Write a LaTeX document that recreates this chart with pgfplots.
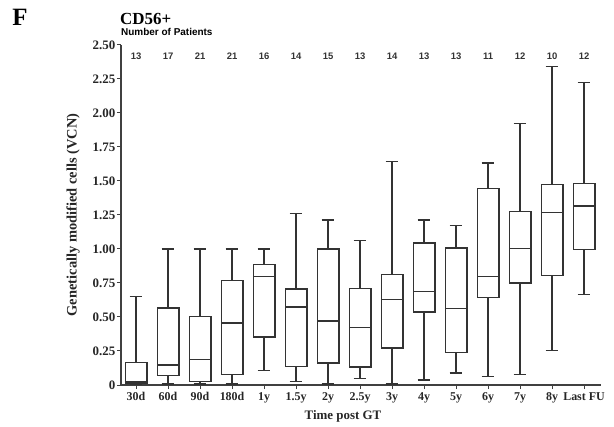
\documentclass[border=0pt]{standalone}
\usepackage{fontspec}
\setmainfont{Liberation Serif}
\newfontfamily\arial{Liberation Sans}
\usepackage{pgfplots}
\usepackage{pgfplotstable}
\pgfplotsset{compat=1.18}
\usepgfplotslibrary{statistics}

% number of patients per time point
\pgfplotstableread{
pos y cnt
0 2.395 13
1 2.395 17
2 2.395 21
3 2.395 21
4 2.395 16
5 2.395 14
6 2.395 15
7 2.395 13
8 2.395 14
9 2.395 13
10 2.395 13
11 2.395 11
12 2.395 12
13 2.395 10
14 2.395 12
}\counts

% pos, lower whisker, q1, median, q3, upper whisker
\newcommand{\bx}[6]{%
  \addplot[black!80, line width=1.5bp, solid,
    boxplot/every box/.style={line width=1.5bp},
    boxplot/every median/.style={line width=1.5bp},
    boxplot/every whisker/.style={line width=1.5bp},
    boxplot prepared={draw direction=y, draw position=#1, lower whisker=#2,
      lower quartile=#3, median=#4, upper quartile=#5, upper whisker=#6,
      box extend=0.67, whisker extend=0.4}] coordinates {};}

\begin{document}
\begin{tikzpicture}
\useasboundingbox (-121bp,-42bp) rectangle (493bp,385bp);
\begin{axis}[
    at={(0,0)}, anchor=south west,
    scale only axis, width=480bp, height=340bp,
    xmin=-0.47, xmax=14.53, ymin=0, ymax=2.5,
    axis lines*=left,
    axis line style={line width=1.2bp, black!75, -},
    xtick={0,...,14},
    xticklabels={30d,60d,90d,180d,1y,1.5y,2y,2.5y,3y,4y,5y,6y,7y,8y,Last FU},
    ytick={0,0.25,...,2.5},
    yticklabels={0,0.25,0.50,0.75,1.00,1.25,1.50,1.75,2.00,2.25,2.50},
    tick align=outside, major tick length=4bp,
    tick style={line width=1bp, black!75},
    x tick label style={font=\fontsize{12}{12}\selectfont\bfseries, text=black!85},
    y tick label style={font=\fontsize{13}{13}\selectfont\bfseries, text=black!85, inner sep=1.5bp},
    clip=false,
]
\bx{0}{0.007}{0.015}{0.027}{0.167}{0.652}
\bx{1}{0.007}{0.069}{0.147}{0.566}{1.00}
\bx{2}{0.007}{0.025}{0.186}{0.505}{1.00}
\bx{3}{0.007}{0.076}{0.456}{0.767}{1.00}
\bx{4}{0.105}{0.353}{0.797}{0.887}{1.00}
\bx{5}{0.025}{0.135}{0.574}{0.706}{1.26}
\bx{6}{0.007}{0.162}{0.470}{1.00}{1.215}
\bx{7}{0.049}{0.132}{0.422}{0.711}{1.064}
\bx{8}{0.007}{0.272}{0.630}{0.811}{1.644}
\bx{9}{0.037}{0.537}{0.686}{1.044}{1.213}
\bx{10}{0.088}{0.240}{0.561}{1.007}{1.174}
\bx{11}{0.064}{0.645}{0.797}{1.446}{1.632}
\bx{12}{0.076}{0.750}{1.002}{1.274}{1.921}
\bx{13}{0.252}{0.804}{1.269}{1.475}{2.343}
\bx{14}{0.664}{0.995}{1.318}{1.480}{2.223}
\addplot[only marks, mark=none, nodes near coords, point meta=explicit symbolic,
    every node near coord/.style={anchor=base, inner sep=0pt,
      font=\arial\fontsize{9.5}{9.5}\selectfont\bfseries, text=black!80}]
    table[x=pos, y=y, meta=cnt] {\counts};
\end{axis}
\node[rotate=90, font=\fontsize{14.5}{14.5}\selectfont\bfseries, text=black!85]
  at (-48bp,170bp) {Genetically modified cells (VCN)};
\node[font=\fontsize{13}{13}\selectfont\bfseries, text=black!85]
  at (222bp,-31bp) {Time post GT};
\node[font=\fontsize{25}{25}\selectfont\bfseries] at (-101bp,368bp) {F};
\node[anchor=base west, inner sep=0pt, font=\fontsize{17}{17}\selectfont\bfseries]
  at (-1bp,360bp) {CD56+};
\node[anchor=base west, inner sep=0pt, font=\arial\fontsize{10}{10}\selectfont\bfseries]
  at (0bp,349bp) {Number of Patients};
\end{tikzpicture}
\end{document}
